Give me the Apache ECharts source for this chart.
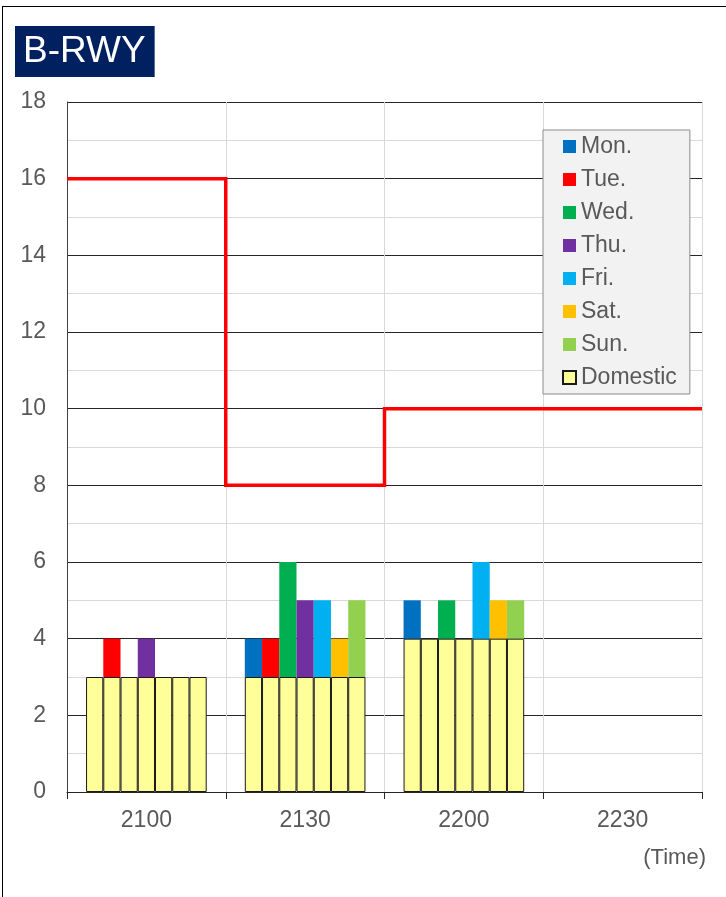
<!DOCTYPE html>
<html>
<head>
<meta charset="utf-8">
<script src="https://cdn.jsdelivr.net/npm/echarts@6/dist/echarts.min.js"></script>
<style>
  html, body { margin: 0; padding: 0; background: #fff; }
  #frame { position: absolute; left: 2px; top: 6px; width: 900px; height: 1000px; border: 1px solid #000; box-sizing: border-box; }
  #chart { position: absolute; left: 0; top: 0; width: 726px; height: 897px; }
</style>
</head>
<body>
<div id="frame"></div>
<div id="chart"></div>
<script>
// ---- data ----
const times = ['2100', '2130', '2200', '2230'];
const days = ['Mon.', 'Tue.', 'Wed.', 'Thu.', 'Fri.', 'Sat.', 'Sun.'];
const domestic = [3, 3, 4, 0];          // same for every day in each slot
const mon = [0, 1, 1, 0];
const tue = [1, 1, 0, 0];
const wed = [0, 3, 1, 0];
const thu = [1, 2, 0, 0];
const fri = [0, 2, 2, 0];
const sat = [0, 1, 1, 0];
const sun = [0, 2, 1, 0];
const capacity = [16, 8, 10, 10];       // red step line per time slot
const yTicks = [0, 2, 4, 6, 8, 10, 12, 14, 16, 18];

const dayValues = [mon, tue, wed, thu, fri, sat, sun];
const dayColors = ['#0070C0', '#FF0000', '#00B050', '#7030A0', '#00B0F0', '#FFC000', '#92D050'];
const domColor = '#FFFF99';
const font = 'Liberation Sans, Arial, sans-serif';
const labelColor = '#595959';

const nz = a => a.map(v => (v === 0 ? null : v));

const series = [];
days.forEach((d, i) => {
  series.push({
    name: 'Domestic', type: 'bar', stack: 's' + i,
    xAxisIndex: 0, yAxisIndex: 0,
    barGap: '0%', barCategoryGap: '24%',
    itemStyle: { color: domColor, borderColor: '#1a1a1a', borderWidth: 1 },
    data: nz(domestic), z: 2
  });
  series.push({
    name: d, type: 'bar', stack: 's' + i,
    xAxisIndex: 0, yAxisIndex: 0,
    barGap: '0%', barCategoryGap: '24%',
    itemStyle: { color: dayColors[i] },
    data: nz(dayValues[i]), z: 2
  });
});

const stepPts = [];
capacity.forEach((v, i) => { stepPts.push([i, v]); stepPts.push([i + 1, v]); });
series.push({
  name: 'limit', type: 'line', xAxisIndex: 1, yAxisIndex: 0,
  data: stepPts, showSymbol: false, symbol: 'none',
  lineStyle: { color: '#FF0000', width: 3.5, join: 'miter' },
  z: 5, silent: true
});

const chart = echarts.init(document.getElementById('chart'), null, { renderer: 'canvas' });
chart.setOption({
  animation: false,
  backgroundColor: 'transparent',
  title: {
    text: 'B-RWY', left: 15, top: 26,
    backgroundColor: '#002060',
    padding: [7, 9, 7, 8],
    textStyle: { color: '#ffffff', fontSize: 37, fontWeight: 'normal', fontFamily: font, lineHeight: 37 }
  },
  legend: {
    orient: 'vertical', left: 543, top: 130,
    backgroundColor: '#f2f2f2', borderColor: '#8c8c8c', borderWidth: 1,
    padding: [5, 13, 5, 19],
    itemWidth: 13, itemHeight: 13, itemGap: 10,
    icon: 'rect',
    textStyle: { color: labelColor, fontSize: 23, fontFamily: font, lineHeight: 23 },
    data: days.concat(['Domestic'])
  },
  grid: { left: 67, right: 24, top: 102, bottom: 105, containLabel: false },
  xAxis: [
    {
      type: 'category', data: times, boundaryGap: true,
      axisLine: { show: true, lineStyle: { color: '#262626', width: 1 } },
      axisTick: { show: true, length: 7, lineStyle: { color: '#262626' } },
      axisLabel: { color: labelColor, fontSize: 23, fontFamily: font, margin: 17 },
      splitLine: { show: true, lineStyle: { color: '#d9d9d9', width: 1 } }
    },
    { type: 'value', min: 0, max: 4, show: false }
  ],
  yAxis: {
    type: 'value', min: yTicks[0], max: yTicks[yTicks.length - 1], interval: yTicks[1] - yTicks[0],
    axisLine: { show: true, lineStyle: { color: '#404040' } },
    axisTick: { show: false },
    axisLabel: { color: labelColor, fontSize: 23, fontFamily: font, margin: 21 },
    splitLine: { show: true, lineStyle: { color: '#262626', width: 1 } },
    minorTick: { show: false, splitNumber: 2 },
    minorSplitLine: { show: true, lineStyle: { color: '#d9d9d9', width: 1 } }
  },
  graphic: [{
    type: 'text', right: 20, top: 847,
    style: { text: '(Time)', fill: labelColor, font: '22px ' + font }
  }],
  series: series
});
</script>
</body>
</html>
